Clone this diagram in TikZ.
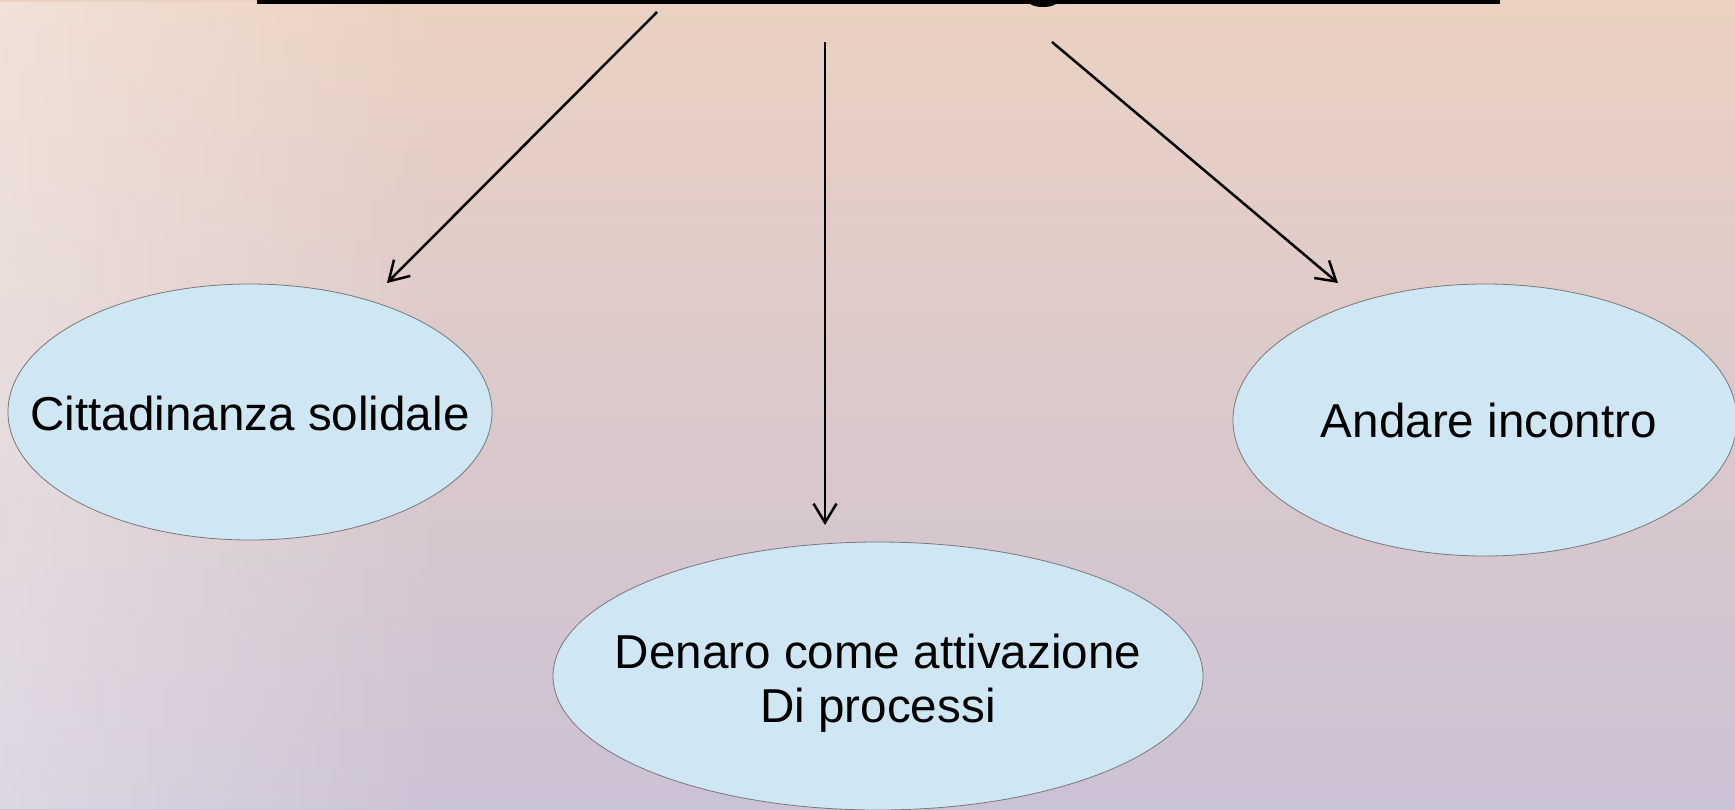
\documentclass[tikz,border=0pt]{standalone}
\usepackage{fontspec}
\setmainfont{Liberation Sans}
\usetikzlibrary{arrows.meta,shapes.geometric,fadings}
\definecolor{bgtop}{RGB}{234,209,193}
\definecolor{bgmid}{RGB}{221,191,196}
\definecolor{bgbot}{RGB}{204,194,213}
\definecolor{ellfill}{RGB}{207,230,243}
\definecolor{ellline}{RGB}{120,120,120}
\begin{document}
\begin{tikzpicture}[x=1pt,y=-1pt,
  bubble/.style={ellipse,draw=ellline,line width=0.8pt,fill=ellfill,inner sep=0pt},
  label/.style={font=\fontsize{47.6}{54}\selectfont,align=center,inner sep=0pt},
  link/.style={line width=2.5pt,-{Straight Barb[length=19pt,width=23pt,line width=2.5pt]}}]
\useasboundingbox (0,0) rectangle (1735,809);
\shade[top color=bgtop,middle color=bgmid,bottom color=bgbot] (0,0) rectangle (1735,809);
\fill[white,opacity=0.35,path fading=east] (0,0) rectangle (450,809);
% cut-off title underline
\draw[line width=4pt] (257,1.5) -- (1500,1.5);
\fill (1043,2) ellipse (14pt and 5pt);
% bubbles
\node[bubble,minimum width=484pt,minimum height=256pt] (cit) at (250,412) {};
\node[bubble,minimum width=650pt,minimum height=268pt] (den) at (878,676) {};
\node[bubble,minimum width=504pt,minimum height=272pt] (and) at (1485,420) {};
\node[label] (citT) at ([yshift=-1pt]cit.center) {Cittadinanza solidale};
\node[label] (denT) at ([yshift=-7pt]den.center) {Denaro come attivazione\\Di processi};
\node[label] (andT) at ([xshift=4pt]and.center) {Andare incontro};
% connectors
\coordinate (s1) at (657,12);
\coordinate (e1) at (387,283);
\coordinate (s2) at (825,42);
\coordinate (e2) at (825,525);
\coordinate (s3) at (1052,42);
\coordinate (e3) at (1338,283);
\draw[link] (s1) -- (e1);
\draw[link] (s2) -- (e2);
\draw[link] (s3) -- (e3);
\end{tikzpicture}
\end{document}
